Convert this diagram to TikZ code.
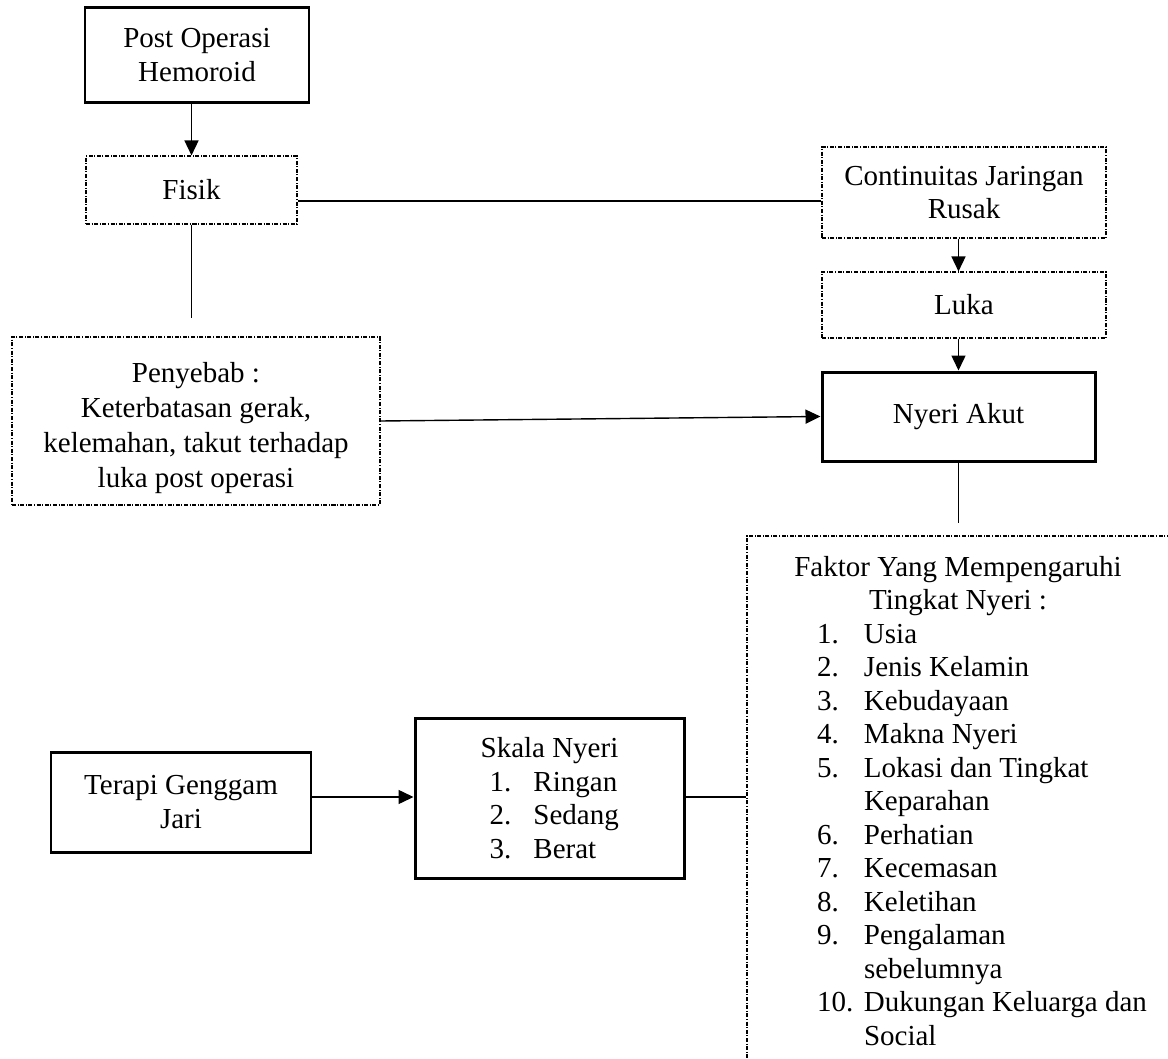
\documentclass[tikz,border=0pt]{standalone}
\usepackage{fontspec}
\setmainfont{Liberation Serif}
\usetikzlibrary{arrows.meta}
\newdimen\PX \PX=0.4138pt
\newcommand\LI[3]{\makebox[#1][l]{\hspace*{#2}#3}}
\begin{document}
\begin{tikzpicture}[x=0.4138pt,y=-0.4138pt,
  every node/.style={font=\fontsize{12}{13.86}\selectfont, inner sep=0pt},
  solidbox/.style={draw, line width=1.24pt, align=center},
  dotbox/.style={draw, line width=0.46pt, dash pattern=on 1.66pt off 0.66pt on 0.41pt off 0.66pt, align=center},
  conn/.style={line width=0.58pt},
  arr/.style={conn, -{Triangle[length=6.2pt, width=5.8pt]}}]
\useasboundingbox (0,0) rectangle (1168,1059);

\node[solidbox, minimum width=224\PX, minimum height=95\PX] (post) at (197,55) {Post Operasi\\Hemoroid};
\node[dotbox, minimum width=211\PX, minimum height=68\PX] (fisik) at (191.5,190) {Fisik};
\node[dotbox, minimum width=284\PX, minimum height=91\PX] (cont) at (964,192.5) {Continuitas Jaringan\\Rusak};
\node[dotbox, minimum width=284\PX, minimum height=66\PX] (luka) at (964,305) {Luka};
\node[solidbox, minimum width=273\PX, minimum height=89\PX] (nyeri) at (958.5,416.5) {Nyeri Akut};
\node[dotbox, minimum width=368\PX, minimum height=168\PX,
      font=\fontsize{12}{14.5}\selectfont] (peny) at (196,421)
  {\raisebox{-7\PX}[\height][\depth]{\begin{tabular}{@{}c@{}}Penyebab :\\Keterbatasan gerak,\\kelemahan, takut terhadap\\luka post operasi\end{tabular}}};
\node[solidbox, minimum width=260\PX, minimum height=100\PX] (terapi) at (181,802) {Terapi Genggam\\Jari};
\node[solidbox, minimum width=269\PX, minimum height=160\PX, align=left] (skala) at (549.5,798)
  {\makebox[200\PX][c]{Skala Nyeri}\\
   \LI{200\PX}{40\PX}{\makebox[44\PX][l]{1.}Ringan}\\
   \LI{200\PX}{40\PX}{\makebox[44\PX][l]{2.}Sedang}\\
   \LI{200\PX}{40\PX}{\makebox[44\PX][l]{3.}Berat}};
\node[dotbox, minimum width=422\PX, minimum height=530\PX, align=left] (faktor) at (958,801)
  {\makebox[400\PX][c]{Faktor Yang Mempengaruhi}\\
   \makebox[400\PX][c]{Tingkat Nyeri :}\\
   \LI{400\PX}{59\PX}{\makebox[47\PX][l]{1.}Usia}\\
   \LI{400\PX}{59\PX}{\makebox[47\PX][l]{2.}Jenis Kelamin}\\
   \LI{400\PX}{59\PX}{\makebox[47\PX][l]{3.}Kebudayaan}\\
   \LI{400\PX}{59\PX}{\makebox[47\PX][l]{4.}Makna Nyeri}\\
   \LI{400\PX}{59\PX}{\makebox[47\PX][l]{5.}Lokasi dan Tingkat}\\
   \LI{400\PX}{106\PX}{Keparahan}\\
   \LI{400\PX}{59\PX}{\makebox[47\PX][l]{6.}Perhatian}\\
   \LI{400\PX}{59\PX}{\makebox[47\PX][l]{7.}Kecemasan}\\
   \LI{400\PX}{59\PX}{\makebox[47\PX][l]{8.}Keletihan}\\
   \LI{400\PX}{59\PX}{\makebox[47\PX][l]{9.}Pengalaman}\\
   \LI{400\PX}{106\PX}{sebelumnya}\\
   \LI{400\PX}{59\PX}{\makebox[47\PX][l]{10.}Dukungan Keluarga dan}\\
   \LI{400\PX}{106\PX}{Social}};

\coordinate (yF) at (0,201);
\coordinate (yT) at (0,797);
\coordinate (fisikend) at (191.5,318);
\coordinate (nyeriend) at (958.5,523);

\draw[arr] (post.south -| fisik.center) -- (fisik.north);
\draw[conn] (fisik.south) -- (fisikend);
\draw[conn] (fisik.east |- yF) -- (cont.west |- yF);
\draw[arr] (cont.south -| nyeri.center) -- (luka.north -| nyeri.center);
\draw[arr] (luka.south -| nyeri.center) -- (nyeri.north);
\draw[arr] (peny.east) -- (nyeri.west);
\draw[conn] (nyeri.south) -- (nyeriend);
\draw[arr] (terapi.east |- yT) -- (skala.west |- yT);
\draw[conn] (skala.east |- yT) -- (faktor.west |- yT);
\end{tikzpicture}
\end{document}
